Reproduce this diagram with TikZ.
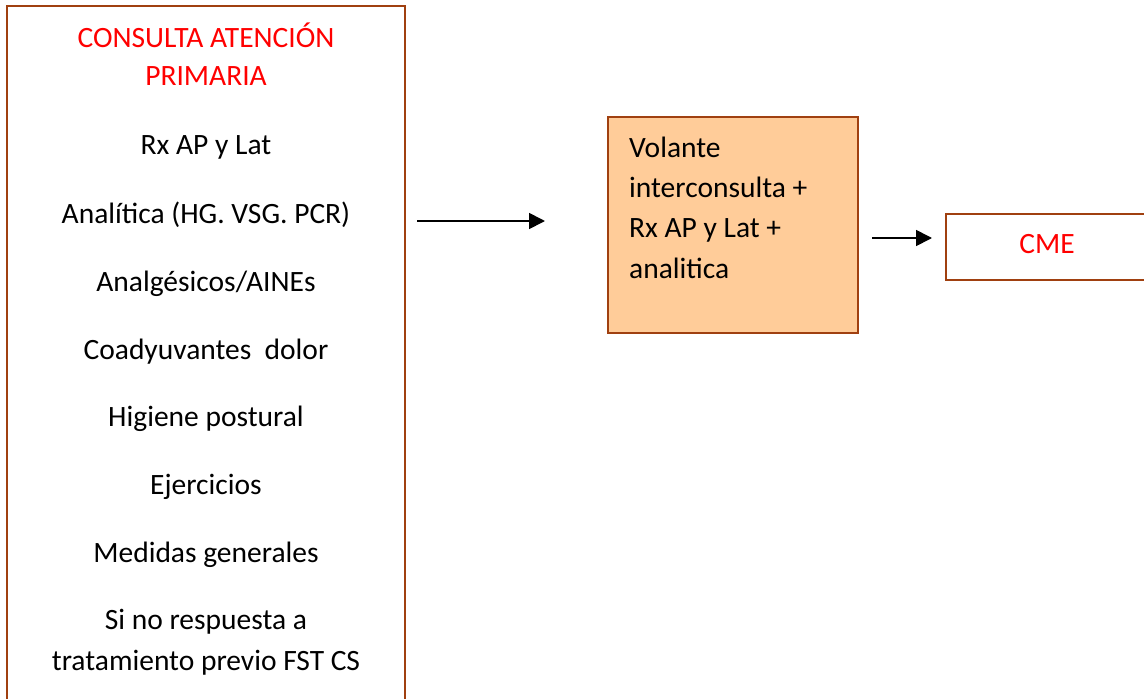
\documentclass[tikz,border=0pt]{standalone}
\usepackage{fontspec}
\setmainfont{Carlito}
\usetikzlibrary{arrows.meta}
\definecolor{framebrown}{RGB}{160,64,16}
\definecolor{peach}{RGB}{255,204,153}
\definecolor{titlered}{RGB}{255,0,0}
\begin{document}
\begin{tikzpicture}[x=1pt,y=1pt,
  every node/.style={font=\fontsize{29.5}{40}\selectfont, inner sep=0pt},
  frame/.style={draw=framebrown, line width=2pt, rectangle},
  item/.style={anchor=base, align=center},
  title/.style={item, text=titlered},
  link/.style={draw=black, line width=1.7pt, -{Triangle[length=16pt,width=16pt]}}]
  \clip (0,0) rectangle (1144,-699);
  \fill[white] (0,0) rectangle (1144,-699);

  % primary care consultation column (multi-line nodes sit on their last baseline)
  \node[frame, minimum width=398pt, minimum height=724pt] (consulta) at (206,-368) {};
  \node[title, font=\fontsize{29.5}{38}\selectfont] (titulo) at (206,-85) {CONSULTA ATENCIÓN\\PRIMARIA};
  \node[item] (rx)      at (206,-154) {Rx AP y Lat};
  \node[item] (analit)  at (206,-223) {Analítica (HG. VSG. PCR)};
  \node[item] (analg)   at (206,-291) {Analgésicos/AINEs};
  \node[item] (coad)    at (206,-359) {Coadyuvantes\ \ dolor};
  \node[item] (higiene) at (206,-426) {Higiene postural};
  \node[item] (ejerc)   at (206,-494) {Ejercicios};
  \node[item] (medidas) at (206,-562) {Medidas generales};
  \node[item, font=\fontsize{29.5}{41}\selectfont] (sinresp) at (206,-670) {Si no respuesta a\\tratamiento previo FST CS};

  % referral form
  \node[frame, fill=peach, minimum width=250pt, minimum height=216pt] (volante) at (733,-225) {};
  \node[anchor=base west, align=left, font=\fontsize{29.5}{40.3}\selectfont] (volantetxt) at (629,-278)
    {Volante\\interconsulta +\\Rx AP y Lat +\\analitica};

  % specialist consultation
  \node[frame, minimum width=210pt, minimum height=66pt] (cme) at (1051,-247) {};
  \node[anchor=base, text=titlered] (cmetxt) at (1047,-253) {CME};

  % connectors
  \coordinate (a1s) at (417,-221);
  \coordinate (a1e) at (545,-221);
  \coordinate (a2s) at (872,-238);
  \coordinate (a2e) at (932,-238);
  \draw[link] (a1s) -- (a1e);
  \draw[link] (a2s) -- (a2e);
\end{tikzpicture}
\end{document}
